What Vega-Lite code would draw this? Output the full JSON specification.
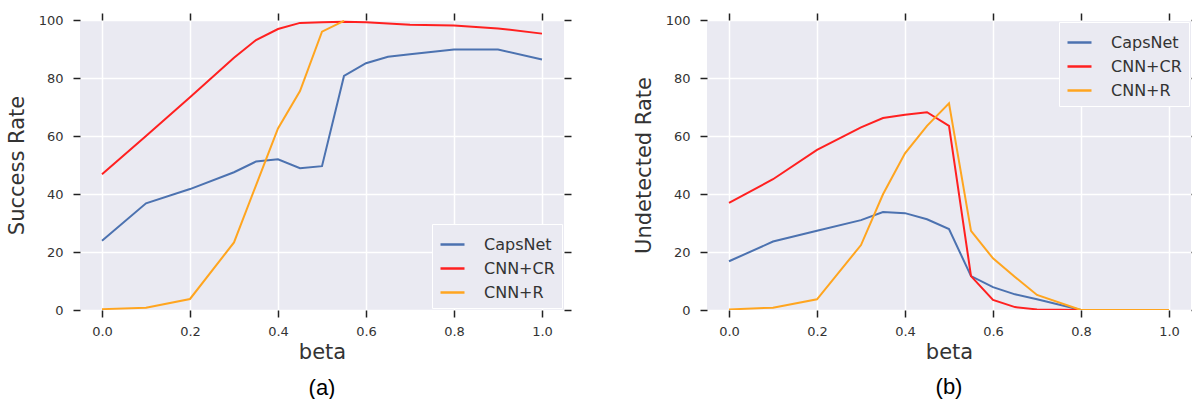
{
  "$schema": "https://vega.github.io/schema/vega-lite/v6.json",
  "background": "white",
  "padding": {"left": 6, "top": 12, "right": 0, "bottom": 0},
  "spacing": 61,
  "config": {
    "view": {"fill": "#EAEAF2", "stroke": null},
    "axis": {
      "domain": false,
      "tickColor": "#222222",
      "tickWidth": 1.5,
      "tickSize": 7,
      "labelFont": "DejaVu Sans",
      "labelFontSize": 13,
      "labelColor": "#333333",
      "titleFont": "DejaVu Sans",
      "titleFontSize": 21,
      "titleFontWeight": "normal",
      "titleColor": "#333333",
      "gridColor": "white",
      "gridWidth": 1.5,
      "gridOpacity": 1
    },
    "legend": {
      "title": null,
      "fillColor": "#EAEAF2",
      "strokeColor": "white",
      "padding": 7,
      "offset": 2,
      "symbolType": "stroke",
      "symbolSize": 576,
      "symbolStrokeWidth": 2.5,
      "labelFont": "DejaVu Sans",
      "labelFontSize": 16,
      "labelColor": "#333333",
      "labelOffset": 18,
      "rowPadding": 2
    }
  },
  "resolve": {"scale": {"color": "independent"}, "legend": {"color": "independent"}},
  "datasets": {
    "a": [
      {"beta": 0.0, "rate": 23.9, "model": "CapsNet"},
      {"beta": 0.1, "rate": 36.8, "model": "CapsNet"},
      {"beta": 0.2, "rate": 41.7, "model": "CapsNet"},
      {"beta": 0.3, "rate": 47.5, "model": "CapsNet"},
      {"beta": 0.35, "rate": 51.2, "model": "CapsNet"},
      {"beta": 0.4, "rate": 52.0, "model": "CapsNet"},
      {"beta": 0.45, "rate": 48.9, "model": "CapsNet"},
      {"beta": 0.5, "rate": 49.6, "model": "CapsNet"},
      {"beta": 0.55, "rate": 80.7, "model": "CapsNet"},
      {"beta": 0.6, "rate": 85.1, "model": "CapsNet"},
      {"beta": 0.65, "rate": 87.3, "model": "CapsNet"},
      {"beta": 0.7, "rate": 88.2, "model": "CapsNet"},
      {"beta": 0.8, "rate": 89.8, "model": "CapsNet"},
      {"beta": 0.9, "rate": 89.8, "model": "CapsNet"},
      {"beta": 1.0, "rate": 86.4, "model": "CapsNet"},
      {"beta": 0.0, "rate": 46.8, "model": "CNN+CR"},
      {"beta": 0.1, "rate": 60.0, "model": "CNN+CR"},
      {"beta": 0.2, "rate": 73.4, "model": "CNN+CR"},
      {"beta": 0.3, "rate": 87.0, "model": "CNN+CR"},
      {"beta": 0.35, "rate": 93.1, "model": "CNN+CR"},
      {"beta": 0.4, "rate": 96.9, "model": "CNN+CR"},
      {"beta": 0.45, "rate": 99.0, "model": "CNN+CR"},
      {"beta": 0.5, "rate": 99.2, "model": "CNN+CR"},
      {"beta": 0.55, "rate": 99.4, "model": "CNN+CR"},
      {"beta": 0.6, "rate": 99.2, "model": "CNN+CR"},
      {"beta": 0.7, "rate": 98.4, "model": "CNN+CR"},
      {"beta": 0.8, "rate": 98.1, "model": "CNN+CR"},
      {"beta": 0.9, "rate": 97.1, "model": "CNN+CR"},
      {"beta": 1.0, "rate": 95.3, "model": "CNN+CR"},
      {"beta": 0.0, "rate": 0.3, "model": "CNN+R"},
      {"beta": 0.1, "rate": 0.8, "model": "CNN+R"},
      {"beta": 0.2, "rate": 3.8, "model": "CNN+R"},
      {"beta": 0.3, "rate": 23.3, "model": "CNN+R"},
      {"beta": 0.35, "rate": 43.0, "model": "CNN+R"},
      {"beta": 0.4, "rate": 62.6, "model": "CNN+R"},
      {"beta": 0.45, "rate": 75.5, "model": "CNN+R"},
      {"beta": 0.5, "rate": 96.0, "model": "CNN+R"},
      {"beta": 0.55, "rate": 99.7, "model": "CNN+R"}
    ],
    "b": [
      {"beta": 0.0, "rate": 16.8, "model": "CapsNet"},
      {"beta": 0.1, "rate": 23.6, "model": "CapsNet"},
      {"beta": 0.2, "rate": 27.3, "model": "CapsNet"},
      {"beta": 0.3, "rate": 31.0, "model": "CapsNet"},
      {"beta": 0.35, "rate": 33.8, "model": "CapsNet"},
      {"beta": 0.4, "rate": 33.4, "model": "CapsNet"},
      {"beta": 0.45, "rate": 31.3, "model": "CapsNet"},
      {"beta": 0.5, "rate": 27.9, "model": "CapsNet"},
      {"beta": 0.55, "rate": 11.7, "model": "CapsNet"},
      {"beta": 0.6, "rate": 7.9, "model": "CapsNet"},
      {"beta": 0.65, "rate": 5.4, "model": "CapsNet"},
      {"beta": 0.7, "rate": 3.7, "model": "CapsNet"},
      {"beta": 0.8, "rate": 0.0, "model": "CapsNet"},
      {"beta": 0.9, "rate": 0.0, "model": "CapsNet"},
      {"beta": 1.0, "rate": 0.0, "model": "CapsNet"},
      {"beta": 0.0, "rate": 36.9, "model": "CNN+CR"},
      {"beta": 0.1, "rate": 45.1, "model": "CNN+CR"},
      {"beta": 0.2, "rate": 55.2, "model": "CNN+CR"},
      {"beta": 0.3, "rate": 63.0, "model": "CNN+CR"},
      {"beta": 0.35, "rate": 66.2, "model": "CNN+CR"},
      {"beta": 0.4, "rate": 67.3, "model": "CNN+CR"},
      {"beta": 0.45, "rate": 68.2, "model": "CNN+CR"},
      {"beta": 0.5, "rate": 63.5, "model": "CNN+CR"},
      {"beta": 0.55, "rate": 11.7, "model": "CNN+CR"},
      {"beta": 0.6, "rate": 3.5, "model": "CNN+CR"},
      {"beta": 0.65, "rate": 1.0, "model": "CNN+CR"},
      {"beta": 0.7, "rate": 0.2, "model": "CNN+CR"},
      {"beta": 0.8, "rate": 0.0, "model": "CNN+CR"},
      {"beta": 0.9, "rate": 0.0, "model": "CNN+CR"},
      {"beta": 1.0, "rate": 0.0, "model": "CNN+CR"},
      {"beta": 0.0, "rate": 0.2, "model": "CNN+R"},
      {"beta": 0.1, "rate": 0.8, "model": "CNN+R"},
      {"beta": 0.2, "rate": 3.7, "model": "CNN+R"},
      {"beta": 0.3, "rate": 22.4, "model": "CNN+R"},
      {"beta": 0.35, "rate": 39.9, "model": "CNN+R"},
      {"beta": 0.4, "rate": 54.0, "model": "CNN+R"},
      {"beta": 0.45, "rate": 63.5, "model": "CNN+R"},
      {"beta": 0.5, "rate": 71.3, "model": "CNN+R"},
      {"beta": 0.55, "rate": 27.3, "model": "CNN+R"},
      {"beta": 0.6, "rate": 17.8, "model": "CNN+R"},
      {"beta": 0.65, "rate": 11.4, "model": "CNN+R"},
      {"beta": 0.7, "rate": 5.2, "model": "CNN+R"},
      {"beta": 0.8, "rate": 0.0, "model": "CNN+R"},
      {"beta": 0.9, "rate": 0.0, "model": "CNN+R"},
      {"beta": 1.0, "rate": 0.0, "model": "CNN+R"}
    ]
  },
  "hconcat": [
    {
      "width": 484,
      "height": 290,
      "title": {"text": "(a)", "orient": "bottom", "frame": "group", "anchor": "middle", "fontSize": 22, "font": "Liberation Sans", "fontWeight": "normal", "color": "#000000", "offset": 16},
      "data": {"name": "a"},
      "layer": [
        {
          "mark": {"type": "line", "strokeWidth": 2, "clip": true},
          "encoding": {
            "x": {"field": "beta", "type": "quantitative",
              "scale": {"domain": [-0.05, 1.05], "nice": false, "zero": false},
              "axis": {"orient": "bottom", "values": [0, 0.2, 0.4, 0.6, 0.8, 1.0], "format": ".1f", "title": "beta", "labelPadding": 8, "titlePadding": 3, "grid": true}},
            "y": {"field": "rate", "type": "quantitative",
              "scale": {"domain": [0, 100], "nice": false},
              "axis": {"orient": "left", "values": [0, 20, 40, 60, 80, 100], "title": "Success Rate", "labelPadding": 10, "titlePadding": 11, "grid": true}},
            "color": {"field": "model", "type": "nominal",
              "scale": {"domain": ["CapsNet", "CNN+CR", "CNN+R"], "range": ["#4C72B0", "#FF2020", "#FFA51F"]},
              "legend": {"orient": "bottom-right"}}
          }
        },
        {
          "mark": {"type": "point", "opacity": 0},
          "encoding": {
            "x": {"field": "beta", "type": "quantitative",
              "axis": {"orient": "top", "values": [0, 0.2, 0.4, 0.6, 0.8, 1.0], "labels": false, "grid": false, "title": null}},
            "y": {"field": "rate", "type": "quantitative",
              "axis": {"orient": "right", "values": [0, 20, 40, 60, 80, 100], "labels": false, "grid": false, "title": null}}
          }
        }
      ],
      "resolve": {"axis": {"x": "independent", "y": "independent"}}
    },
    {
      "width": 484,
      "height": 290,
      "title": {"text": "(b)", "orient": "bottom", "frame": "group", "anchor": "middle", "fontSize": 22, "font": "Liberation Sans", "fontWeight": "normal", "color": "#000000", "offset": 15},
      "data": {"name": "b"},
      "layer": [
        {
          "mark": {"type": "line", "strokeWidth": 2, "clip": true},
          "encoding": {
            "x": {"field": "beta", "type": "quantitative",
              "scale": {"domain": [-0.05, 1.05], "nice": false, "zero": false},
              "axis": {"orient": "bottom", "values": [0, 0.2, 0.4, 0.6, 0.8, 1.0], "format": ".1f", "title": "beta", "labelPadding": 8, "titlePadding": 3, "grid": true}},
            "y": {"field": "rate", "type": "quantitative",
              "scale": {"domain": [0, 100], "nice": false},
              "axis": {"orient": "left", "values": [0, 20, 40, 60, 80, 100], "title": "Undetected Rate", "labelPadding": 10, "titlePadding": 11, "grid": true}},
            "color": {"field": "model", "type": "nominal",
              "scale": {"domain": ["CapsNet", "CNN+CR", "CNN+R"], "range": ["#4C72B0", "#FF2020", "#FFA51F"]},
              "legend": {"orient": "top-right"}}
          }
        },
        {
          "mark": {"type": "point", "opacity": 0},
          "encoding": {
            "x": {"field": "beta", "type": "quantitative",
              "axis": {"orient": "top", "values": [0, 0.2, 0.4, 0.6, 0.8, 1.0], "labels": false, "grid": false, "title": null}},
            "y": {"field": "rate", "type": "quantitative",
              "axis": {"orient": "right", "values": [0, 20, 40, 60, 80, 100], "labels": false, "grid": false, "title": null}}
          }
        }
      ],
      "resolve": {"axis": {"x": "independent", "y": "independent"}}
    }
  ]
}
